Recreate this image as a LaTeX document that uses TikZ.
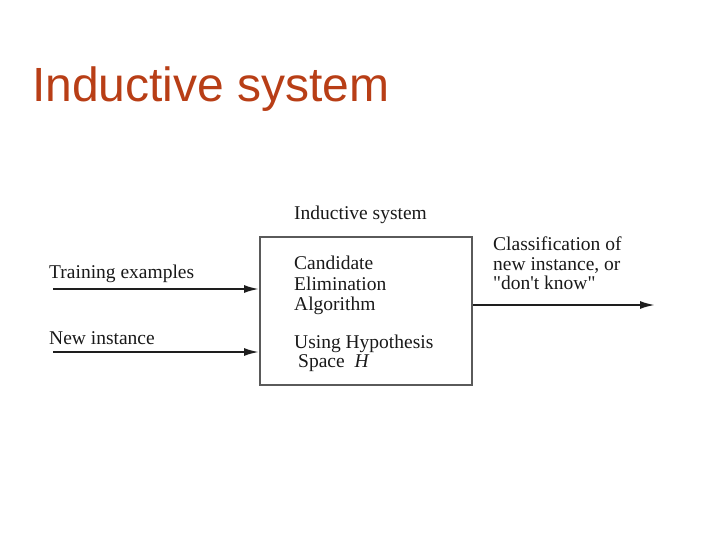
\documentclass[tikz,border=0pt]{standalone}
\usepackage{fontspec}
\setmainfont{Liberation Serif}
\newfontfamily\rawserif{Liberation Serif}[Ligatures=TeXOff]
\newfontfamily\titlefont{Liberation Sans}
\usetikzlibrary{arrows.meta}
\definecolor{titlered}{RGB}{184,62,22}
\definecolor{boxgray}{RGB}{90,90,90}
\definecolor{linegray}{RGB}{30,30,30}
\tikzset{
  lbl/.style={inner sep=0pt, anchor=base west, font=\fontsize{19.5}{20}\selectfont, text=black!90},
  flow/.style={draw=linegray, line width=2pt, -{Latex[length=15pt,width=8pt]}},
}
\begin{document}
\begin{tikzpicture}[x=1pt,y=-1pt]
\useasboundingbox (0,0) rectangle (720,540);
\node[inner sep=0pt, anchor=base west, font=\titlefont\fontsize{48}{50}\selectfont, text=titlered] (title) at (32,102) {Inductive system};
\node[draw=boxgray, line width=2pt, minimum width=212pt, minimum height=148pt, inner sep=0pt, anchor=north west] (box) at (259,236) {};
\node[lbl] (sys) at (294,220) {Inductive system};
\node[lbl] (c1) at (294,269) {Candidate};
\node[lbl] (c2) at (294,290) {Elimination};
\node[lbl] (c3) at (294,310) {Algorithm};
\node[lbl] (u1) at (294,348) {Using Hypothesis};
\node[lbl] (u2) at (298,367) {Space\ \ \textit{H}};
\node[lbl] (train) at (49,278) {Training examples};
\node[lbl] (newi) at (49,344) {New instance};
\node[lbl] (o1) at (493,251) {Classification of};
\node[lbl] (o2) at (493,270) {new instance, or};
\node[lbl] (o3) at (493,289) {\rawserif "don't know"};
\coordinate (ts) at (53,289);
\coordinate (ns) at (53,352);
\coordinate (oe) at (655,305);
\draw[flow] (ts) -- (ts -| box.west);
\draw[flow] (ns) -- (ns -| box.west);
\draw[flow] (oe -| box.east) -- (oe);
\end{tikzpicture}
\end{document}
